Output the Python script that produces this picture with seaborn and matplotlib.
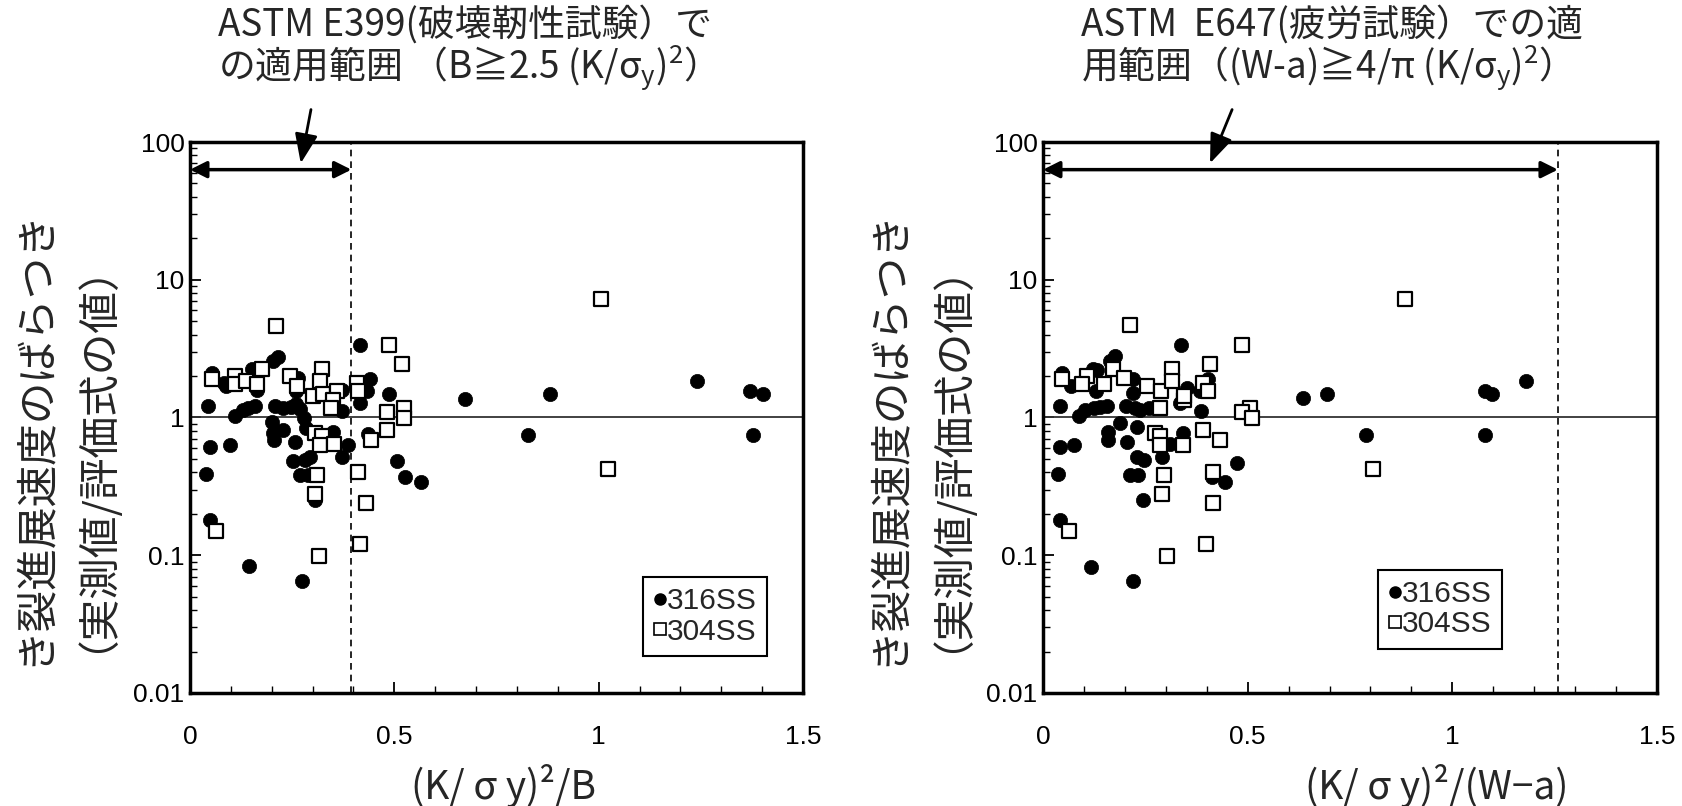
import numpy as np
import pandas as pd
import matplotlib
matplotlib.use("Agg")
import matplotlib.pyplot as plt
from matplotlib.lines import Line2D
from matplotlib.ticker import FixedLocator, FixedFormatter, LogLocator, NullFormatter, MultipleLocator
import seaborn as sns

# ---- data: scatter of crack-growth-rate ratio (measured / predicted) ----
# left panel: x = (K/σy)^2 / B
b_x_316 = [0.055, 0.084, 0.088, 0.151, 0.165, 0.204, 0.216, 0.045, 0.110, 0.130,
           0.143, 0.159, 0.208, 0.228, 0.248, 0.260, 0.270, 0.265, 0.260, 0.280,
           0.285, 0.200, 0.204, 0.206, 0.228, 0.257, 0.050, 0.098, 0.039, 0.253,
           0.281, 0.293, 0.269, 0.289, 0.306, 0.050, 0.144, 0.275, 0.350, 0.371,
           0.371, 0.371, 0.387, 0.417, 0.440, 0.432, 0.417, 0.487, 0.436, 0.507,
           0.526, 0.566, 0.672, 0.880, 0.826, 1.241, 1.371, 1.402, 1.377]
b_y_316 = [2.10, 1.78, 1.70, 2.25, 1.59, 2.55, 2.73, 1.22, 1.03, 1.14,
           1.18, 1.22, 1.22, 1.17, 1.20, 1.25, 1.16, 1.95, 1.55, 0.99,
           0.84, 0.92, 0.77, 0.69, 0.81, 0.66, 0.61, 0.63, 0.39, 0.48,
           0.49, 0.52, 0.38, 0.38, 0.25, 0.18, 0.083, 0.065, 0.78, 1.11,
           1.59, 0.52, 0.63, 3.38, 1.90, 1.55, 1.27, 1.49, 0.76, 0.48,
           0.37, 0.34, 1.37, 1.49, 0.75, 1.83, 1.55, 1.49, 0.75]
b_x_304 = [0.210, 0.055, 0.110, 0.110, 0.137, 0.163, 0.175, 0.245, 0.263, 0.322,
           0.318, 0.300, 0.326, 0.359, 0.350, 0.346, 0.408, 0.412, 0.487, 0.518,
           0.482, 0.524, 0.524, 0.482, 0.442, 0.306, 0.324, 0.318, 0.352, 0.311,
           0.306, 0.412, 0.430, 0.063, 0.316, 0.417, 1.005, 1.023]
b_y_304 = [4.64, 1.91, 1.99, 1.75, 1.83, 1.76, 2.25, 1.99, 1.68, 2.25,
           1.83, 1.44, 1.49, 1.57, 1.33, 1.17, 1.78, 1.56, 3.38, 2.44,
           1.09, 1.18, 0.99, 0.81, 0.69, 0.77, 0.73, 0.63, 0.64, 0.38,
           0.28, 0.40, 0.24, 0.15, 0.098, 0.12, 7.3, 0.42]

# right panel: x = (K/σy)^2 / (W-a)
w_x_316 = [0.046, 0.068, 0.122, 0.132, 0.130, 0.164, 0.176, 0.041, 0.087, 0.103,
           0.124, 0.140, 0.156, 0.221, 0.221, 0.203, 0.225, 0.237, 0.258, 0.229,
           0.189, 0.160, 0.160, 0.206, 0.041, 0.076, 0.036, 0.229, 0.246, 0.213,
           0.233, 0.244, 0.041, 0.118, 0.219, 0.337, 0.351, 0.335, 0.385, 0.404,
           0.384, 0.343, 0.311, 0.290, 0.414, 0.445, 0.473, 0.636, 0.693, 0.789,
           1.079, 1.098, 1.180, 1.079]
w_y_316 = [2.10, 1.68, 2.25, 2.22, 1.56, 2.55, 2.78, 1.22, 1.03, 1.14,
           1.18, 1.20, 1.22, 1.91, 1.50, 1.22, 1.17, 1.14, 1.17, 0.86,
           0.91, 0.79, 0.69, 0.66, 0.61, 0.63, 0.39, 0.52, 0.49, 0.38,
           0.38, 0.25, 0.18, 0.082, 0.065, 3.38, 1.63, 1.27, 1.12, 1.91,
           1.56, 0.77, 0.64, 0.52, 0.37, 0.34, 0.47, 1.38, 1.49, 0.75,
           1.56, 1.49, 1.83, 0.75]
w_x_304 = [0.213, 0.046, 0.107, 0.095, 0.148, 0.172, 0.197, 0.255, 0.288, 0.315,
           0.315, 0.345, 0.345, 0.285, 0.408, 0.392, 0.404, 0.485, 0.506, 0.487,
           0.511, 0.392, 0.432, 0.274, 0.286, 0.286, 0.343, 0.296, 0.290, 0.415,
           0.415, 0.064, 0.302, 0.398, 0.884, 0.806]
w_y_304 = [4.67, 1.91, 1.99, 1.75, 1.76, 2.25, 1.95, 1.68, 1.56, 2.25,
           1.83, 1.34, 1.44, 1.17, 2.44, 1.78, 1.56, 3.38, 1.18, 1.09,
           0.99, 0.81, 0.69, 0.77, 0.73, 0.63, 0.63, 0.38, 0.28, 0.40,
           0.24, 0.15, 0.098, 0.12, 7.3, 0.42]

series_names = ["316SS", "304SS"]
y_ticks = [0.01, 0.1, 1, 10, 100]
y_tick_labels = ["0.01", "0.1", "1", "10", "100"]
x_ticks = [0, 0.5, 1, 1.5]
x_tick_labels = ["0", "0.5", "1", "1.5"]

limit_b = 0.395      # E399 thickness limit
limit_w = 1.258      # E647 ligament limit

ylabel_1 = "き裂進展速度のばらつき"
ylabel_2 = "（実測値/評価式の値）"
xlabel_b = "(K/ σ y)²/B"
xlabel_w = "(K/ σ y)²/(W−a)"
note_b = ["ASTM E399(破壊靭性試験）で",
          r"の適用範囲 （B≧2.5 (K/σ$_\mathregular{y}$)$^\mathregular{2}$）"]
note_w = ["ASTM  E647(疲労試験）での適",
          r"用範囲（(W-a)≧4/π (K/σ$_\mathregular{y}$)$^\mathregular{2}$）"]

sns.set_theme(style="white")
plt.rcParams["font.family"] = ["Liberation Sans", "Noto Sans CJK JP", "DejaVu Sans"]
plt.rcParams["mathtext.fontset"] = "custom"

W, H = 1682, 806
fig = plt.figure(figsize=(W / 100, H / 100), dpi=100)
fig.patch.set_facecolor("white")


def fx(px):
    return px / W


def fy(py):
    return 1 - py / H


ax_b = fig.add_axes([fx(190), fy(693), (803 - 190) / W, (693 - 142) / H])
ax_w = fig.add_axes([fx(1043), fy(693), (1657 - 1043) / W, (693 - 142) / H])

jp = ["Noto Sans CJK JP"]


def draw_panel(ax, x316, y316, x304, y304, limit, legend_anchor):
    d316 = pd.DataFrame({"x": x316, "y": y316})
    d304 = pd.DataFrame({"x": x304, "y": y304})
    sns.scatterplot(data=d316, x="x", y="y", ax=ax, marker="o", s=105,
                    color="black", edgecolor="black", linewidth=0.5, zorder=3)
    sns.scatterplot(data=d304, x="x", y="y", ax=ax, marker="s", s=90,
                    color="white", edgecolor="black", linewidth=1.6, zorder=4)
    ax.set_yscale("log")
    ax.set_xlim(0, 1.5)
    ax.set_ylim(0.01, 100)
    ax.set_xlabel("")
    ax.set_ylabel("")
    ax.axhline(1, color="#333333", lw=1.3, zorder=2)
    ax.axvline(limit, color="black", lw=1.2, ls=(0, (4, 3)), zorder=2)

    ax.yaxis.set_major_locator(FixedLocator(y_ticks))
    ax.yaxis.set_major_formatter(FixedFormatter(y_tick_labels))
    ax.yaxis.set_minor_locator(LogLocator(base=10, subs=np.arange(2, 10)))
    ax.yaxis.set_minor_formatter(NullFormatter())
    ax.xaxis.set_major_locator(FixedLocator(x_ticks))
    ax.xaxis.set_major_formatter(FixedFormatter(x_tick_labels))
    ax.xaxis.set_minor_locator(MultipleLocator(0.1))

    ax.tick_params(axis="both", which="both", direction="in", colors="black",
                   bottom=True, left=True, top=False, right=False)
    ax.tick_params(axis="both", which="major", length=8, width=1.3, labelsize=19)
    ax.tick_params(axis="both", which="minor", length=5, width=1.0)
    ax.tick_params(axis="x", which="major", pad=23)
    ax.tick_params(axis="y", which="major", pad=4)
    for sp in ax.spines.values():
        sp.set_visible(True)
        sp.set_color("black")
        sp.set_linewidth(2.5)

    # double-headed arrow marking the valid range
    ax.annotate("", xy=(0.0, 63), xytext=(limit, 63),
                arrowprops=dict(arrowstyle="<|-|>,head_length=0.5,head_width=0.25",
                                color="black", lw=2.5, mutation_scale=20,
                                shrinkA=0, shrinkB=0),
                zorder=5)

    handles = [
        Line2D([], [], ls="none", marker="o", markersize=8, markerfacecolor="black",
               markeredgecolor="black"),
        Line2D([], [], ls="none", marker="s", markersize=8, markerfacecolor="white",
               markeredgecolor="black", markeredgewidth=1.2),
    ]
    leg = ax.legend(handles, series_names, loc="lower right", bbox_to_anchor=legend_anchor,
                    fontsize=21.5, frameon=True, fancybox=False, framealpha=1,
                    edgecolor="black", handlelength=0.45, handletextpad=0.0,
                    borderpad=0.35, labelspacing=0.08, borderaxespad=0)
    leg.get_frame().set_linewidth(1.5)


draw_panel(ax_b, b_x_316, b_y_316, b_x_304, b_y_304, limit_b, (0.942, 0.067))
draw_panel(ax_w, w_x_316, w_y_316, w_x_304, w_y_304, limit_w, (0.748, 0.08))

# pointer arrows from the notes down to the range markers
pointer = dict(arrowstyle="-|>,head_length=0.9,head_width=0.35", color="black", lw=2,
               mutation_scale=20, shrinkA=0, shrinkB=0)
ax_b.annotate("", xy=(0.271, 70), xytext=(0.296, 172), annotation_clip=False,
              arrowprops=pointer)
ax_w.annotate("", xy=(0.408, 70), xytext=(0.462, 172), annotation_clip=False,
              arrowprops=pointer)

# notes above the panels
for x0, lines in ((218, note_b), (1081, note_w)):
    fig.text(fx(x0), fy(25), lines[0], fontsize=26.5, family=jp, ha="left", va="center")
    fig.text(fx(x0), fy(68), lines[1], fontsize=26.5, family=jp, ha="left", va="center")

# y labels (two columns each)
for x1, x2 in ((34, 73), (888, 928)):
    fig.text(fx(x1), fy(437), ylabel_1, rotation=90, fontsize=30, family=jp,
             ha="center", va="center")
    fig.text(fx(x2), fy(437), ylabel_2, rotation=90, fontsize=30, family=jp,
             ha="center", va="center")

# x labels
fig.text(fx(504), fy(786), xlabel_b, fontsize=28, family=jp, ha="center", va="center")
fig.text(fx(1437), fy(786), xlabel_w, fontsize=28, family=jp, ha="center", va="center")

fig.savefig("out.png", dpi=100, facecolor="white")
